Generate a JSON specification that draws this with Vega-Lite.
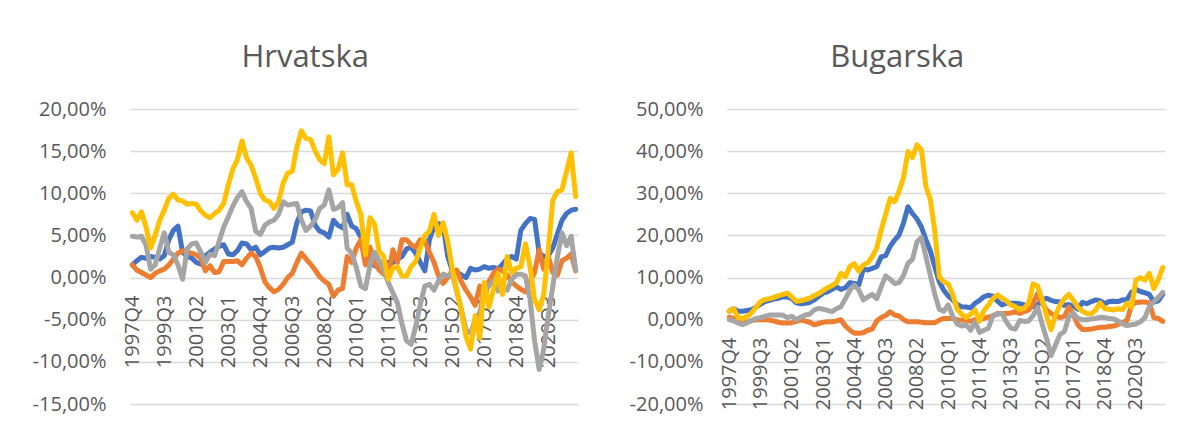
{
  "$schema": "https://vega.github.io/schema/vega-lite/v6.json",
  "background": "white",
  "padding": {"left": 32, "top": 42, "right": 0, "bottom": 12},
  "config": {
    "font": "Open Sans",
    "view": {"stroke": null}
  },
  "datasets": {
    "hr": [
      {"q":"1997Q4","b":1.5,"o":1.5,"g":4.9,"y":7.7},
      {"q":"1998Q1","b":2.0,"o":0.9,"g":4.8,"y":6.8},
      {"q":"1998Q2","b":2.4,"o":0.6,"g":4.9,"y":7.8},
      {"q":"1998Q3","b":2.3,"o":0.3,"g":3.9,"y":6.0},
      {"q":"1998Q4","b":2.5,"o":0.0,"g":1.0,"y":3.5},
      {"q":"1999Q1","b":2.4,"o":0.5,"g":1.5,"y":5.0},
      {"q":"1999Q2","b":2.2,"o":0.8,"g":3.5,"y":6.8},
      {"q":"1999Q3","b":2.6,"o":1.0,"g":5.3,"y":8.0},
      {"q":"1999Q4","b":4.5,"o":1.5,"g":3.0,"y":9.4},
      {"q":"2000Q1","b":5.6,"o":2.2,"g":2.7,"y":9.9},
      {"q":"2000Q2","b":6.1,"o":2.9,"g":1.5,"y":9.2},
      {"q":"2000Q3","b":3.0,"o":3.2,"g":-0.2,"y":9.1},
      {"q":"2000Q4","b":2.5,"o":3.0,"g":3.4,"y":8.7},
      {"q":"2001Q1","b":2.3,"o":2.9,"g":4.0,"y":8.8},
      {"q":"2001Q2","b":1.8,"o":2.7,"g":4.1,"y":8.7},
      {"q":"2001Q3","b":1.6,"o":2.3,"g":3.0,"y":7.9},
      {"q":"2001Q4","b":2.6,"o":0.8,"g":1.8,"y":7.4},
      {"q":"2002Q1","b":3.0,"o":1.4,"g":2.8,"y":7.1},
      {"q":"2002Q2","b":3.4,"o":0.6,"g":2.6,"y":7.6},
      {"q":"2002Q3","b":3.7,"o":0.7,"g":4.3,"y":8.0},
      {"q":"2002Q4","b":3.9,"o":1.9,"g":6.0,"y":8.8},
      {"q":"2003Q1","b":2.8,"o":1.9,"g":7.2,"y":11.0},
      {"q":"2003Q2","b":2.7,"o":1.9,"g":8.5,"y":12.9},
      {"q":"2003Q3","b":3.2,"o":2.0,"g":9.5,"y":14.0},
      {"q":"2003Q4","b":4.1,"o":1.5,"g":10.2,"y":16.2},
      {"q":"2004Q1","b":4.0,"o":2.3,"g":9.0,"y":14.2},
      {"q":"2004Q2","b":3.3,"o":2.9,"g":8.2,"y":13.3},
      {"q":"2004Q3","b":3.6,"o":2.5,"g":5.5,"y":11.8},
      {"q":"2004Q4","b":2.7,"o":1.2,"g":5.1,"y":10.0},
      {"q":"2005Q1","b":3.1,"o":-0.5,"g":6.2,"y":9.2},
      {"q":"2005Q2","b":3.5,"o":-1.2,"g":6.6,"y":9.0},
      {"q":"2005Q3","b":3.6,"o":-1.7,"g":6.8,"y":8.2},
      {"q":"2005Q4","b":3.5,"o":-1.4,"g":7.5,"y":9.0},
      {"q":"2006Q1","b":3.6,"o":-0.8,"g":9.0,"y":11.2},
      {"q":"2006Q2","b":3.9,"o":0.0,"g":8.6,"y":12.4},
      {"q":"2006Q3","b":4.2,"o":0.5,"g":8.7,"y":12.6},
      {"q":"2006Q4","b":6.5,"o":1.8,"g":8.8,"y":15.5},
      {"q":"2007Q1","b":7.8,"o":2.9,"g":6.8,"y":17.4},
      {"q":"2007Q2","b":8.0,"o":2.2,"g":5.6,"y":16.5},
      {"q":"2007Q3","b":7.9,"o":1.6,"g":6.1,"y":16.4},
      {"q":"2007Q4","b":6.2,"o":0.9,"g":6.9,"y":15.0},
      {"q":"2008Q1","b":5.5,"o":0.1,"g":8.2,"y":14.0},
      {"q":"2008Q2","b":5.3,"o":-0.4,"g":8.6,"y":13.5},
      {"q":"2008Q3","b":4.8,"o":-0.8,"g":10.4,"y":16.7},
      {"q":"2008Q4","b":6.8,"o":-2.2,"g":8.1,"y":12.2},
      {"q":"2009Q1","b":6.2,"o":-1.5,"g":8.3,"y":12.8},
      {"q":"2009Q2","b":5.9,"o":-1.3,"g":8.9,"y":14.8},
      {"q":"2009Q3","b":7.5,"o":2.5,"g":3.5,"y":11.0},
      {"q":"2009Q4","b":6.1,"o":1.8,"g":2.9,"y":11.0},
      {"q":"2010Q1","b":5.8,"o":3.5,"g":1.2,"y":9.0},
      {"q":"2010Q2","b":4.8,"o":4.5,"g":-1.0,"y":7.5},
      {"q":"2010Q3","b":3.4,"o":1.5,"g":-1.3,"y":2.7},
      {"q":"2010Q4","b":2.3,"o":3.6,"g":1.5,"y":7.1},
      {"q":"2011Q1","b":1.4,"o":1.8,"g":3.0,"y":6.3},
      {"q":"2011Q2","b":1.3,"o":0.9,"g":2.0,"y":3.1},
      {"q":"2011Q3","b":1.6,"o":0.4,"g":0.9,"y":2.5},
      {"q":"2011Q4","b":1.8,"o":0.2,"g":-0.6,"y":-0.2},
      {"q":"2012Q1","b":1.8,"o":3.3,"g":-1.8,"y":1.1},
      {"q":"2012Q2","b":2.2,"o":1.8,"g":-3.0,"y":1.3},
      {"q":"2012Q3","b":2.5,"o":4.5,"g":-5.5,"y":0.2},
      {"q":"2012Q4","b":3.4,"o":4.5,"g":-7.5,"y":0.2},
      {"q":"2013Q1","b":3.6,"o":3.9,"g":-7.9,"y":1.3},
      {"q":"2013Q2","b":2.9,"o":3.6,"g":-5.8,"y":1.9},
      {"q":"2013Q3","b":1.8,"o":4.5,"g":-3.2,"y":3.5},
      {"q":"2013Q4","b":0.8,"o":4.4,"g":-1.0,"y":5.0},
      {"q":"2014Q1","b":4.5,"o":3.0,"g":-0.8,"y":5.5},
      {"q":"2014Q2","b":6.0,"o":1.8,"g":-1.5,"y":7.5},
      {"q":"2014Q3","b":6.4,"o":0.2,"g":-0.4,"y":5.0},
      {"q":"2014Q4","b":6.2,"o":-0.7,"g":0.4,"y":6.5},
      {"q":"2015Q1","b":2.5,"o":0.0,"g":0.2,"y":4.3},
      {"q":"2015Q2","b":0.8,"o":0.8,"g":0.5,"y":1.0},
      {"q":"2015Q3","b":0.6,"o":0.9,"g":-1.7,"y":-1.5},
      {"q":"2015Q4","b":0.3,"o":-0.5,"g":-3.8,"y":-4.0},
      {"q":"2016Q1","b":0.0,"o":-1.5,"g":-6.2,"y":-7.0},
      {"q":"2016Q2","b":1.1,"o":-2.3,"g":-6.6,"y":-8.5},
      {"q":"2016Q3","b":0.9,"o":-3.3,"g":-5.0,"y":-4.5},
      {"q":"2016Q4","b":1.0,"o":-1.0,"g":-4.5,"y":-7.2},
      {"q":"2017Q1","b":1.3,"o":-2.5,"g":-0.8,"y":-0.6},
      {"q":"2017Q2","b":1.1,"o":-0.5,"g":-1.0,"y":-3.5},
      {"q":"2017Q3","b":1.2,"o":0.5,"g":-0.4,"y":-1.5},
      {"q":"2017Q4","b":1.0,"o":1.0,"g":-1.6,"y":0.5},
      {"q":"2018Q1","b":1.6,"o":0.8,"g":-1.2,"y":-2.0},
      {"q":"2018Q2","b":2.2,"o":0.3,"g":-1.5,"y":2.5},
      {"q":"2018Q3","b":2.5,"o":-0.5,"g":-0.2,"y":0.6},
      {"q":"2018Q4","b":2.2,"o":-1.0,"g":0.4,"y":1.1},
      {"q":"2019Q1","b":5.6,"o":-1.4,"g":0.4,"y":1.3},
      {"q":"2019Q2","b":6.4,"o":-1.7,"g":0.2,"y":4.0},
      {"q":"2019Q3","b":7.0,"o":-0.5,"g":-2.5,"y":1.3},
      {"q":"2019Q4","b":6.9,"o":0.6,"g":-7.5,"y":-2.6},
      {"q":"2020Q1","b":2.9,"o":3.3,"g":-10.9,"y":-3.8},
      {"q":"2020Q2","b":2.5,"o":1.0,"g":-8.5,"y":-2.0},
      {"q":"2020Q3","b":2.6,"o":2.5,"g":-4.5,"y":3.3},
      {"q":"2020Q4","b":3.5,"o":0.6,"g":-1.0,"y":9.2},
      {"q":"2021Q1","b":5.2,"o":0.3,"g":2.5,"y":10.2},
      {"q":"2021Q2","b":6.8,"o":2.0,"g":5.3,"y":10.4},
      {"q":"2021Q3","b":7.6,"o":2.3,"g":3.8,"y":12.6},
      {"q":"2021Q4","b":8.0,"o":2.8,"g":4.9,"y":14.8},
      {"q":"2022Q1","b":8.1,"o":0.8,"g":0.9,"y":9.6}
    ],
    "bg": [
      {"q":"1997Q4","b":2.0,"o":0.6,"g":0.0,"y":2.0},
      {"q":"1998Q1","b":2.6,"o":0.3,"g":-0.3,"y":2.6},
      {"q":"1998Q2","b":2.0,"o":-0.5,"g":-0.8,"y":0.5},
      {"q":"1998Q3","b":2.0,"o":-0.8,"g":-1.2,"y":0.3},
      {"q":"1998Q4","b":2.2,"o":-0.5,"g":-0.7,"y":0.8},
      {"q":"1999Q1","b":2.4,"o":-0.2,"g":-0.2,"y":1.6},
      {"q":"1999Q2","b":3.0,"o":0.0,"g":0.3,"y":3.0},
      {"q":"1999Q3","b":3.7,"o":0.0,"g":0.5,"y":4.3},
      {"q":"1999Q4","b":4.3,"o":0.0,"g":0.8,"y":4.8},
      {"q":"2000Q1","b":4.6,"o":-0.1,"g":1.1,"y":5.0},
      {"q":"2000Q2","b":4.9,"o":-0.3,"g":1.1,"y":5.3},
      {"q":"2000Q3","b":5.1,"o":-0.6,"g":1.1,"y":5.7},
      {"q":"2000Q4","b":5.4,"o":-0.8,"g":1.1,"y":6.0},
      {"q":"2001Q1","b":5.4,"o":-0.8,"g":0.5,"y":6.3},
      {"q":"2001Q2","b":5.0,"o":-0.7,"g":0.8,"y":5.4},
      {"q":"2001Q3","b":4.0,"o":-0.4,"g":0.0,"y":4.4},
      {"q":"2001Q4","b":3.8,"o":-0.1,"g":0.6,"y":4.5},
      {"q":"2002Q1","b":3.9,"o":-0.3,"g":1.1,"y":4.8},
      {"q":"2002Q2","b":4.1,"o":-0.6,"g":1.3,"y":5.1},
      {"q":"2002Q3","b":4.7,"o":-1.2,"g":2.3,"y":5.7},
      {"q":"2002Q4","b":5.5,"o":-0.9,"g":2.7,"y":6.2},
      {"q":"2003Q1","b":6.3,"o":-0.6,"g":2.5,"y":6.9},
      {"q":"2003Q2","b":6.6,"o":-0.5,"g":2.2,"y":7.6},
      {"q":"2003Q3","b":7.2,"o":-0.5,"g":1.9,"y":8.1},
      {"q":"2003Q4","b":7.8,"o":-0.3,"g":2.6,"y":8.8},
      {"q":"2004Q1","b":7.2,"o":0.0,"g":3.1,"y":11.0},
      {"q":"2004Q2","b":7.6,"o":-1.5,"g":5.0,"y":10.2},
      {"q":"2004Q3","b":8.8,"o":-2.5,"g":7.0,"y":12.6},
      {"q":"2004Q4","b":8.6,"o":-3.2,"g":8.2,"y":13.3},
      {"q":"2005Q1","b":8.3,"o":-3.2,"g":7.0,"y":11.5},
      {"q":"2005Q2","b":12.0,"o":-3.1,"g":4.7,"y":13.0},
      {"q":"2005Q3","b":11.8,"o":-2.5,"g":5.4,"y":13.5},
      {"q":"2005Q4","b":12.2,"o":-2.2,"g":6.0,"y":15.0},
      {"q":"2006Q1","b":12.6,"o":-0.3,"g":5.0,"y":17.0},
      {"q":"2006Q2","b":14.9,"o":0.5,"g":7.8,"y":21.3},
      {"q":"2006Q3","b":15.2,"o":1.0,"g":10.4,"y":25.0},
      {"q":"2006Q4","b":17.4,"o":1.9,"g":9.6,"y":28.8},
      {"q":"2007Q1","b":18.9,"o":1.1,"g":8.6,"y":28.0},
      {"q":"2007Q2","b":20.1,"o":0.9,"g":8.8,"y":30.5},
      {"q":"2007Q3","b":23.0,"o":0.0,"g":10.5,"y":33.8},
      {"q":"2007Q4","b":26.8,"o":-0.5,"g":13.4,"y":39.9},
      {"q":"2008Q1","b":25.2,"o":-0.5,"g":14.3,"y":38.5},
      {"q":"2008Q2","b":23.9,"o":-0.5,"g":18.5,"y":41.5},
      {"q":"2008Q3","b":22.0,"o":-0.6,"g":19.5,"y":40.3},
      {"q":"2008Q4","b":19.0,"o":-0.7,"g":15.0,"y":31.6},
      {"q":"2009Q1","b":16.3,"o":-0.7,"g":10.5,"y":28.5},
      {"q":"2009Q2","b":12.5,"o":-0.7,"g":6.0,"y":21.0},
      {"q":"2009Q3","b":9.0,"o":-0.1,"g":2.5,"y":10.2},
      {"q":"2009Q4","b":7.0,"o":0.3,"g":2.0,"y":9.0},
      {"q":"2010Q1","b":5.6,"o":0.3,"g":3.5,"y":8.5},
      {"q":"2010Q2","b":4.7,"o":0.3,"g":0.8,"y":6.0},
      {"q":"2010Q3","b":3.6,"o":0.0,"g":-1.0,"y":2.5},
      {"q":"2010Q4","b":3.1,"o":-0.1,"g":-1.5,"y":1.3},
      {"q":"2011Q1","b":3.0,"o":-0.1,"g":-1.2,"y":0.5},
      {"q":"2011Q2","b":2.8,"o":-0.4,"g":-2.5,"y":1.3},
      {"q":"2011Q3","b":3.9,"o":0.0,"g":-0.5,"y":2.3},
      {"q":"2011Q4","b":4.6,"o":0.0,"g":-3.0,"y":-0.4},
      {"q":"2012Q1","b":5.5,"o":0.3,"g":-2.5,"y":2.2},
      {"q":"2012Q2","b":5.8,"o":0.6,"g":-2.0,"y":3.5},
      {"q":"2012Q3","b":5.6,"o":0.9,"g":1.0,"y":5.0},
      {"q":"2012Q4","b":4.4,"o":1.5,"g":1.3,"y":5.9},
      {"q":"2013Q1","b":3.5,"o":1.5,"g":1.5,"y":5.2},
      {"q":"2013Q2","b":3.9,"o":1.5,"g":-0.5,"y":4.5},
      {"q":"2013Q3","b":3.9,"o":1.6,"g":-2.0,"y":3.5},
      {"q":"2013Q4","b":3.9,"o":1.9,"g":-2.2,"y":3.1},
      {"q":"2014Q1","b":3.8,"o":1.5,"g":-0.2,"y":2.4},
      {"q":"2014Q2","b":3.5,"o":1.9,"g":-0.4,"y":2.7},
      {"q":"2014Q3","b":3.2,"o":2.3,"g":-0.3,"y":4.0},
      {"q":"2014Q4","b":3.1,"o":3.9,"g":1.0,"y":8.5},
      {"q":"2015Q1","b":3.5,"o":6.2,"g":3.0,"y":8.0},
      {"q":"2015Q2","b":4.6,"o":4.0,"g":-1.0,"y":4.8},
      {"q":"2015Q3","b":5.1,"o":2.3,"g":-4.5,"y":1.0},
      {"q":"2015Q4","b":4.6,"o":1.5,"g":-8.5,"y":-2.4},
      {"q":"2016Q1","b":4.3,"o":1.0,"g":-6.0,"y":1.1},
      {"q":"2016Q2","b":4.2,"o":0.5,"g":-3.5,"y":3.5},
      {"q":"2016Q3","b":3.4,"o":0.8,"g":-2.8,"y":5.0},
      {"q":"2016Q4","b":3.6,"o":3.0,"g":0.7,"y":6.0},
      {"q":"2017Q1","b":3.2,"o":1.2,"g":1.5,"y":4.6},
      {"q":"2017Q2","b":2.5,"o":-1.2,"g":0.3,"y":3.0},
      {"q":"2017Q3","b":4.1,"o":-2.3,"g":0.0,"y":2.0},
      {"q":"2017Q4","b":3.8,"o":-2.3,"g":0.0,"y":1.5},
      {"q":"2018Q1","b":4.3,"o":-2.2,"g":0.2,"y":1.4},
      {"q":"2018Q2","b":4.7,"o":-2.0,"g":0.3,"y":2.3},
      {"q":"2018Q3","b":4.5,"o":-1.8,"g":0.6,"y":4.0},
      {"q":"2018Q4","b":3.8,"o":-1.8,"g":0.5,"y":2.6},
      {"q":"2019Q1","b":4.3,"o":-1.6,"g":0.3,"y":2.5},
      {"q":"2019Q2","b":4.4,"o":-1.5,"g":0.2,"y":2.3},
      {"q":"2019Q3","b":4.3,"o":-1.1,"g":-0.3,"y":2.6},
      {"q":"2019Q4","b":4.7,"o":-0.6,"g":-1.0,"y":2.4},
      {"q":"2020Q1","b":4.8,"o":-0.2,"g":-1.4,"y":3.9},
      {"q":"2020Q2","b":6.5,"o":3.5,"g":-1.2,"y":3.0},
      {"q":"2020Q3","b":7.2,"o":4.1,"g":-1.0,"y":9.4},
      {"q":"2020Q4","b":6.7,"o":4.2,"g":-0.5,"y":10.0},
      {"q":"2021Q1","b":6.4,"o":4.2,"g":0.5,"y":9.4},
      {"q":"2021Q2","b":6.0,"o":4.0,"g":3.1,"y":11.0},
      {"q":"2021Q3","b":4.2,"o":0.5,"g":4.3,"y":7.4},
      {"q":"2021Q4","b":4.5,"o":0.3,"g":5.3,"y":9.5},
      {"q":"2022Q1","b":6.0,"o":-0.4,"g":6.5,"y":12.4}
    ]
  },
  "spacing": 50,
  "hconcat": [
    {
      "width": 448,
      "height": 295,
      "data": {"name": "hr"},
      "title": {"text": "Hrvatska", "fontSize": 31, "fontWeight": "normal", "color": "#595959", "frame": "bounds", "anchor": "middle", "baseline": "alphabetic", "offset": 1},
      "encoding": {
        "x": {"field": "q", "type": "ordinal", "scale": {"type": "point", "padding": 0.5},
          "axis": {"values": ["1997Q4","1999Q3","2001Q2","2003Q1","2004Q4","2006Q3","2008Q2","2010Q1","2011Q4","2013Q3","2015Q2","2017Q1","2018Q4","2020Q3"],
            "title": null, "labelAngle": 270, "labelFontSize": 20, "labelColor": "#595959", "labelPadding": 17, "labelOverlap": false,
            "domain": false, "ticks": false, "grid": false, "offset": -126}}
      },
      "layer": [
        {"mark": {"type": "line", "color": "#4472C4", "strokeWidth": 5, "strokeJoin": "round", "strokeCap": "round"},
         "encoding": {"y": {"field": "b", "type": "quantitative", "scale": {"domain": [-15, 20], "nice": false},
           "axis": {"values": [-15,-10,-5,0,5,10,15,20], "title": null, "labelExpr": "(datum.value < 0 ? '-' : '') + replace(format(abs(datum.value), '.2f'), '.', ',') + '%'", "grid": true, "gridColor": "#d9d9d9", "gridWidth": 1.5, "domain": false, "ticks": false, "labelFontSize": 20, "labelColor": "#595959", "labelPadding": 24}}}},
        {"mark": {"type": "line", "color": "#ED7D31", "strokeWidth": 5, "strokeJoin": "round", "strokeCap": "round"},
         "encoding": {"y": {"field": "o", "type": "quantitative"}}},
        {"mark": {"type": "line", "color": "#A5A5A5", "strokeWidth": 5, "strokeJoin": "round", "strokeCap": "round"},
         "encoding": {"y": {"field": "g", "type": "quantitative"}}},
        {"mark": {"type": "line", "color": "#FFC000", "strokeWidth": 5, "strokeJoin": "round", "strokeCap": "round"},
         "encoding": {"y": {"field": "y", "type": "quantitative"}}}
      ]
    },
    {
      "width": 438,
      "height": 295,
      "data": {"name": "bg"},
      "title": {"text": "Bugarska", "fontSize": 31, "fontWeight": "normal", "color": "#595959", "frame": "bounds", "anchor": "middle", "baseline": "alphabetic", "offset": 1},
      "encoding": {
        "x": {"field": "q", "type": "ordinal", "scale": {"type": "point", "padding": 0.5},
          "axis": {"values": ["1997Q4","1999Q3","2001Q2","2003Q1","2004Q4","2006Q3","2008Q2","2010Q1","2011Q4","2013Q3","2015Q2","2017Q1","2018Q4","2020Q3"],
            "title": null, "labelAngle": 270, "labelFontSize": 20, "labelColor": "#595959", "labelPadding": 17, "labelOverlap": false,
            "domain": false, "ticks": false, "grid": false, "offset": -84}}
      },
      "layer": [
        {"mark": {"type": "line", "color": "#4472C4", "strokeWidth": 5, "strokeJoin": "round", "strokeCap": "round"},
         "encoding": {"y": {"field": "b", "type": "quantitative", "scale": {"domain": [-20, 50], "nice": false},
           "axis": {"values": [-20,-10,0,10,20,30,40,50], "title": null, "labelExpr": "(datum.value < 0 ? '-' : '') + replace(format(abs(datum.value), '.2f'), '.', ',') + '%'", "grid": true, "gridColor": "#d9d9d9", "gridWidth": 1.5, "domain": false, "ticks": false, "labelFontSize": 20, "labelColor": "#595959", "labelPadding": 24}}}},
        {"mark": {"type": "line", "color": "#ED7D31", "strokeWidth": 5, "strokeJoin": "round", "strokeCap": "round"},
         "encoding": {"y": {"field": "o", "type": "quantitative"}}},
        {"mark": {"type": "line", "color": "#A5A5A5", "strokeWidth": 5, "strokeJoin": "round", "strokeCap": "round"},
         "encoding": {"y": {"field": "g", "type": "quantitative"}}},
        {"mark": {"type": "line", "color": "#FFC000", "strokeWidth": 5, "strokeJoin": "round", "strokeCap": "round"},
         "encoding": {"y": {"field": "y", "type": "quantitative"}}}
      ]
    }
  ]
}
